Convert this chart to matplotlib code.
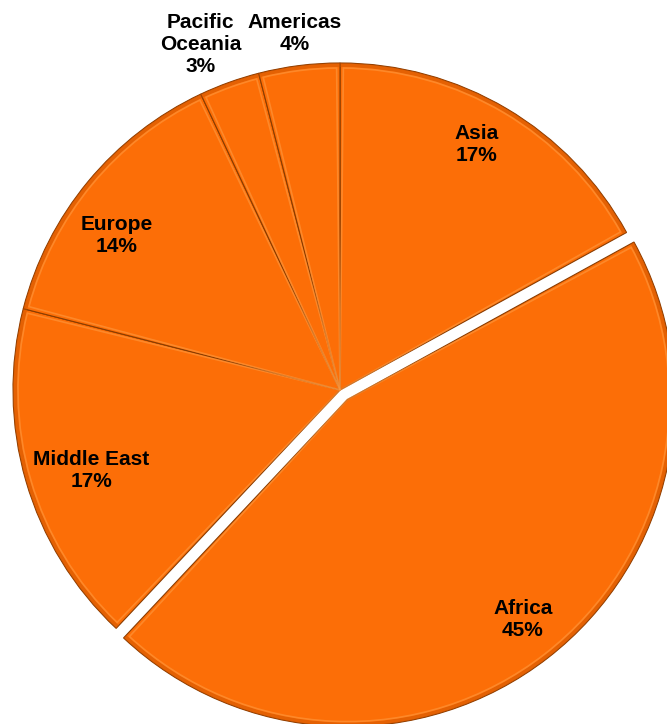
import numpy as np
import matplotlib
matplotlib.use("Agg")
import matplotlib.pyplot as plt
from matplotlib.patches import Wedge

# Share of total by region
regions = ["Asia", "Africa", "Middle East", "Europe", "Pacific\nOceania", "Americas"]
shares = [17, 45, 17, 14, 3, 4]

explode_frac = [0, 0.037, 0, 0, 0, 0]
label_dist = [0.86, 0.86, 0.80, 0.83, 1.14, 1.10]
label_angle_shift = [1.5, 0.8, 1.7, 5.0, 2.2, 0.0]

plt.rcParams["font.family"] = ["Liberation Sans", "DejaVu Sans"]

fig = plt.figure(figsize=(6.67, 7.24), dpi=100)
ax = fig.add_axes([0, 0, 1, 1])

center = (340, 334)
radius = 327
face = "#FC6E07"

# pie explode offsets are in data units, so scale by the radius
wedges, _ = ax.pie(shares, startangle=90, counterclock=False,
                   explode=[e * radius for e in explode_frac],
                   center=center, radius=radius, frame=True,
                   colors=[face] * len(shares),
                   wedgeprops=dict(edgecolor="#8a3c00", linewidth=0.8))
ax.set_xlim(0, 667)
ax.set_ylim(0, 724)
ax.set_aspect("equal")
ax.axis("off")

# rim shading and bevel highlight on each wedge
for w in wedges:
    cx, cy = w.center
    r = w.r
    t1, t2 = w.theta1, w.theta2
    shade = Wedge((cx, cy), r, t1, t2, width=4, facecolor="#c85200",
                  edgecolor="none", alpha=0.45, zorder=w.get_zorder() + 0.1)
    ax.add_patch(shade)
    hl = Wedge((cx, cy), r - 5, t1 + 0.6, t2 - 0.6, facecolor="none",
               edgecolor="#ff9a40", linewidth=1.2, alpha=0.6,
               zorder=w.get_zorder() + 0.2)
    ax.add_patch(hl)

for w, name, val, d, s in zip(wedges, regions, shares, label_dist, label_angle_shift):
    mid = np.deg2rad((w.theta1 + w.theta2) / 2 + s)
    cx, cy = w.center
    x = cx + d * w.r * np.cos(mid)
    y = cy + d * w.r * np.sin(mid)
    ax.text(x, y, f"{name}\n{val}%", ha="center", va="center",
            fontsize=15, fontweight="bold", color="black",
            linespacing=1.2, zorder=10)

fig.savefig("out.png", dpi=100, facecolor="white")
